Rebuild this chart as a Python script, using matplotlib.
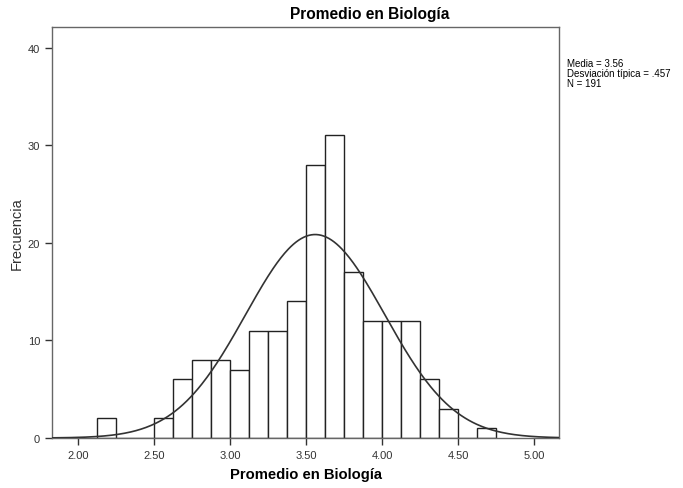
import numpy as np
import matplotlib
matplotlib.use("Agg")
import matplotlib.pyplot as plt

plt.rcParams['font.family'] = ['Liberation Sans', 'DejaVu Sans']

# histogram bins (left edges) and counts
bin_left = [2.125, 2.25, 2.375, 2.5, 2.625, 2.75, 2.875, 3.0, 3.125, 3.25, 3.375,
            3.5, 3.625, 3.75, 3.875, 4.0, 4.125, 4.25, 4.375, 4.5, 4.625]
counts = [2, 0, 0, 2, 6, 8, 8, 7, 11, 11, 14,
          28, 31, 17, 12, 12, 12, 6, 3, 0, 1]
bin_width = 0.125

# summary stats shown in the legend box
media = 3.56
sd = 0.457
n = 191

fig = plt.figure(figsize=(6.83, 4.89), dpi=100)
ax = fig.add_axes([52/683, 1 - 439/489, (559 - 52)/683, (439 - 28)/489])

ax.bar(bin_left, counts, width=bin_width, align='edge',
       facecolor='white', edgecolor='#222222', linewidth=1.0, zorder=2)

xlo, xhi = 1.831, 5.162
xs = np.linspace(xlo, xhi, 400)
curve = n * bin_width * np.exp(-0.5 * ((xs - media) / sd) ** 2) / (sd * np.sqrt(2 * np.pi))
ax.plot(xs, curve, color='#333333', linewidth=1.2, zorder=3)

ax.set_xlim(xlo, xhi)
ax.set_ylim(0, 42.1)
ax.set_xticks([2.0, 2.5, 3.0, 3.5, 4.0, 4.5, 5.0])
ax.set_xticklabels(['%.2f' % v for v in [2.0, 2.5, 3.0, 3.5, 4.0, 4.5, 5.0]])
ax.set_yticks([0, 10, 20, 30, 40])
ax.tick_params(axis='both', labelsize=8, colors='#333333', length=5, width=1, direction='out')

for s in ax.spines.values():
    s.set_color('#666666')
    s.set_linewidth(1.0)

ax.set_xlabel('Promedio en Biología', fontsize=10.6, fontweight='bold', labelpad=5)
ax.set_ylabel('Frecuencia', fontsize=10.5, labelpad=3, color='#333333')

fig.text(370/683, 1 - 15/489, 'Promedio en Biología', fontsize=11.2, fontweight='bold',
         ha='center', va='center')

fig.text(567/683, 1 - 59/489,
         'Media = %.2f\nDesviación típica = %s\nN = %d' % (media, ('%.3f' % sd)[1:], n),
         fontsize=7, ha='left', va='top', linespacing=1.0)

fig.savefig('out.png', dpi=100)
